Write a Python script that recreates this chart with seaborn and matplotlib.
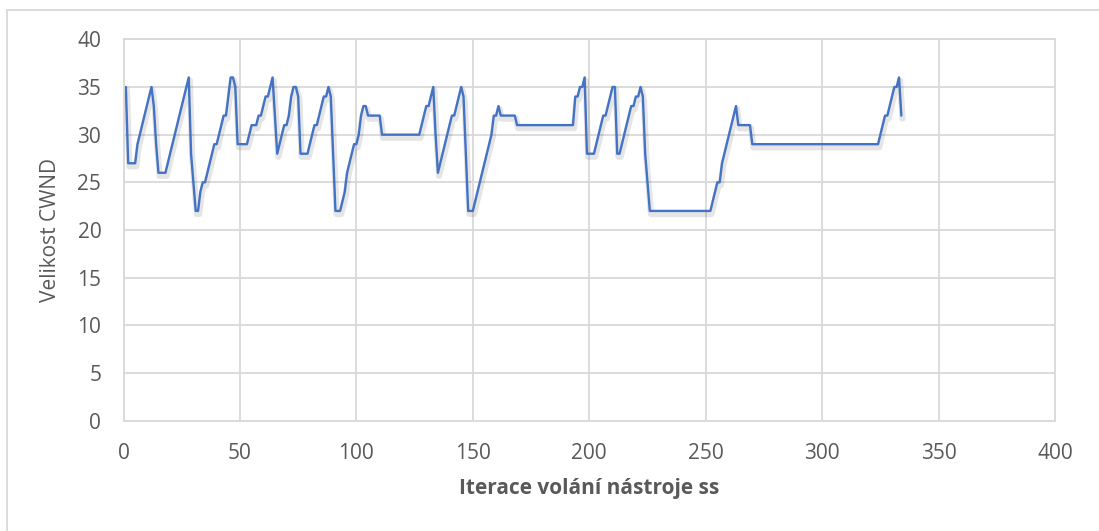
import matplotlib
matplotlib.use("Agg")
import matplotlib.pyplot as plt
import matplotlib.patheffects as pe
from matplotlib.lines import Line2D
import pandas as pd
import seaborn as sns

# CWND size reported by each call of the ss tool (iterations 1..334)
iterations = list(range(1, 335))
cwnd = [
    35, 27, 27, 27, 27, 29, 30, 31, 32, 33, 34, 35, 33, 29, 26, 26, 26, 26, 27, 28,
    29, 30, 31, 32, 33, 34, 35, 36, 28, 25, 22, 22, 24, 25, 25, 26, 27, 28, 29, 29,
    30, 31, 32, 32, 34, 36, 36, 35, 29, 29, 29, 29, 29, 30, 31, 31, 31, 32, 32, 33,
    34, 34, 35, 36, 32, 28, 29, 30, 31, 31, 32, 34, 35, 35, 34, 28, 28, 28, 28, 29,
    30, 31, 31, 32, 33, 34, 34, 35, 34, 28, 22, 22, 22, 23, 24, 26, 27, 28, 29, 29,
    30, 32, 33, 33, 32, 32, 32, 32, 32, 32, 30, 30, 30, 30, 30, 30, 30, 30, 30, 30,
    30, 30, 30, 30, 30, 30, 30, 31, 32, 33, 33, 34, 35, 30, 26, 27, 28, 29, 30, 31,
    32, 32, 33, 34, 35, 34, 28, 22, 22, 22, 23, 24, 25, 26, 27, 28, 29, 30, 32, 32,
    33, 32, 32, 32, 32, 32, 32, 32, 31, 31, 31, 31, 31, 31, 31, 31, 31, 31, 31, 31,
    31, 31, 31, 31, 31, 31, 31, 31, 31, 31, 31, 31, 31, 34, 34, 35, 35, 36, 28, 28,
    28, 28, 29, 30, 31, 32, 32, 33, 34, 35, 35, 28, 28, 29, 30, 31, 32, 33, 33, 34,
    34, 35, 34, 28, 25, 22, 22, 22, 22, 22, 22, 22, 22, 22, 22, 22, 22, 22, 22, 22,
    22, 22, 22, 22, 22, 22, 22, 22, 22, 22, 22, 22, 23, 24, 25, 25, 27, 28, 29, 30,
    31, 32, 33, 31, 31, 31, 31, 31, 31, 29, 29, 29, 29, 29, 29, 29, 29, 29, 29, 29,
    29, 29, 29, 29, 29, 29, 29, 29, 29, 29, 29, 29, 29, 29, 29, 29, 29, 29, 29, 29,
    29, 29, 29, 29, 29, 29, 29, 29, 29, 29, 29, 29, 29, 29, 29, 29, 29, 29, 29, 29,
    29, 29, 29, 29, 30, 31, 32, 32, 33, 34, 35, 35, 36, 32,
]

x_ticks = [0, 50, 100, 150, 200, 250, 300, 350, 400]
y_ticks = [0, 5, 10, 15, 20, 25, 30, 35, 40]
x_label = "Iterace volání nástroje ss"
y_label = "Velikost CWND"

df = pd.DataFrame({"iterace": iterations, "cwnd": cwnd})

sns.set_theme(style="white")
plt.rcParams["font.family"] = ["Open Sans", "DejaVu Sans"]

TEXT = "#595959"
GRID = "#D9D9D9"
LINE = "#4472C4"

fig = plt.figure(figsize=(10.99, 5.31), dpi=100)
ax = fig.add_axes([0.1124, 0.2077, 0.8476, 0.7183])

sns.lineplot(data=df, x="iterace", y="cwnd", ax=ax, color=LINE,
             linewidth=1.7, estimator=None, sort=False)
line = ax.get_lines()[0]
line.set_path_effects([
    pe.SimpleLineShadow(offset=(0.8, -2.2), shadow_color="#000000",
                        alpha=0.10, linewidth=4.5),
    pe.Normal(),
])
line.set_solid_joinstyle("round")

ax.set_xlim(0, 400)
ax.set_ylim(0, 40)
ax.set_xticks(x_ticks)
ax.set_yticks(y_ticks)
ax.set_xticklabels([str(v) for v in x_ticks])
ax.set_yticklabels([str(v) for v in y_ticks])
ax.grid(True, color=GRID, linewidth=1.3)
ax.set_axisbelow(True)
for side in ["left", "right", "top", "bottom"]:
    ax.spines[side].set_color(GRID)
    ax.spines[side].set_linewidth(1.3)
ax.tick_params(axis="both", length=0, labelsize=15, labelcolor=TEXT)
ax.tick_params(axis="x", pad=16)
ax.tick_params(axis="y", pad=16)

ax.set_xlabel(x_label, fontsize=15, fontweight="bold", color=TEXT, labelpad=10)
ax.set_ylabel(y_label, fontsize=15, color=TEXT, labelpad=12)

# light frame around the whole chart area
fig.add_artist(Line2D([0.0063, 0.0063], [0.0, 0.982], transform=fig.transFigure,
                      color=GRID, linewidth=1.3))
fig.add_artist(Line2D([0.0063, 1.0], [0.982, 0.982], transform=fig.transFigure,
                      color=GRID, linewidth=1.3))

fig.savefig("out.png", dpi=100, facecolor="white")
